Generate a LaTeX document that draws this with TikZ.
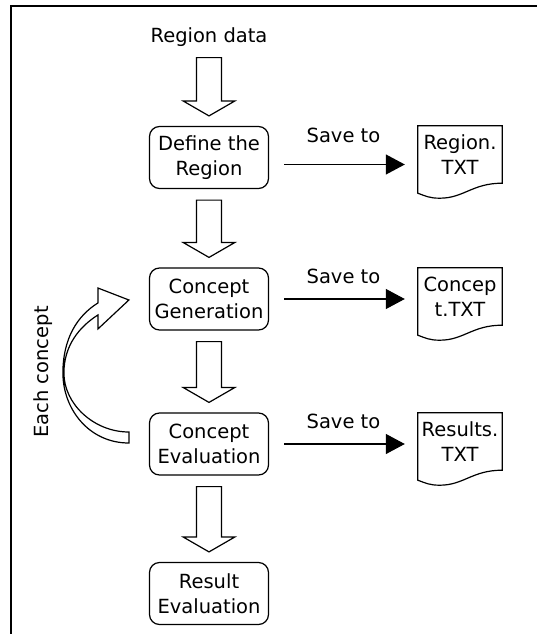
\documentclass[tikz,border=0pt]{standalone}
\usepackage{fontspec}
\setmainfont{DejaVu Sans}
\usetikzlibrary{positioning,arrows.meta,calc}

\begin{document}
\begin{tikzpicture}[
      x=1pt,y=-1pt,
      font=\fontsize{19.5}{25}\selectfont,
      proc/.style={draw,rounded corners=10pt,line width=1.2pt,minimum width=119pt,minimum height=62pt,align=center,inner sep=2pt},
      doc/.style={minimum width=84pt,minimum height=57pt,align=center,inner sep=0pt},
      docline/.style={line width=1.2pt,line join=miter},
      save/.style={-{Triangle[length=19pt,width=20pt]},line width=1.2pt,shorten <=15pt,shorten >=13pt},
      blockarrow/.style={draw,line width=1.2pt,fill=white,line join=miter},
      >=Latex
    ]
    \useasboundingbox (0,0) rectangle (536,634);
    \draw[line width=2pt] (11,640) -- (11,6) -- (540,6);
    \node[inner sep=0pt] (src) at (209,37) {Region data};
    \node[proc] (def) at (209,157.5) {Define the\\Region};
    \node[proc] (gen) at (209,299) {Concept\\Generation};
    \node[proc] (eva) at (209,444) {Concept\\Evaluation};
    \node[proc] (res) at (209,593.5) {Result\\Evaluation};
    \node[doc] (regtxt) at (460,154.5) {Region.\\TXT};
    \node[doc] (contxt) at (460,296.5) {Concep\\t.TXT};
    \node[doc] (restxt) at (460,441.5) {Results.\\TXT};
    \foreach \u/\v in {src/def,def/gen,gen/eva,eva/res}{
      \draw[blockarrow] let \p1=(\u.south), \p2=(\v.north) in
        (\x2-12.5pt,\y1-11pt) -- (\x2-12.5pt,\y2+25pt) -- (\x2-26pt,\y2+25pt)
        -- (\x2,\y2+10pt) -- (\x2+26pt,\y2+25pt) -- (\x2+12.5pt,\y2+25pt)
        -- (\x2+12.5pt,\y1-11pt) -- cycle;
    }
    \foreach \d in {regtxt,contxt,restxt}{
      \draw[docline] (\d.north west) -- (\d.north east) -- (\d.south east)
        .. controls +(-30,0) and +(24,0) .. ([shift={(22,15)}]\d.south west)
        .. controls +(-10,0) and +(8,3) .. ([shift={(0,10)}]\d.south west) -- cycle;
    }
    \coordinate (s1) at ([yshift=-7pt]def.east);
    \draw[save] (s1) -- (s1 -| regtxt.west) node[midway,above=18pt] {Save to};
    \draw[save] (gen.east) -- (gen.east -| contxt.west) node[midway,above=11pt] {Save to};
    \draw[save] (eva.east) -- (eva.east -| restxt.west) node[midway,above=11pt] {Save to};
    % loop back for each concept
    \begin{scope}[shift={(eva.west)}]
      \draw[blockarrow] (-20,-1) .. controls (-60,-1) and (-86,-35) .. (-86,-71)
        .. controls (-86,-105) and (-72,-128) .. (-51,-141) -- (-51,-156) -- (-20,-144)
        -- (-51,-115) -- (-51,-129) .. controls (-70,-117) and (-85,-98) .. (-85,-71)
        .. controls (-85,-40) and (-55,-12) .. (-20,-12) -- cycle;
    \end{scope}
    \node[rotate=90] (each) at (43,372) {Each concept};
  \end{tikzpicture}
\end{document}
